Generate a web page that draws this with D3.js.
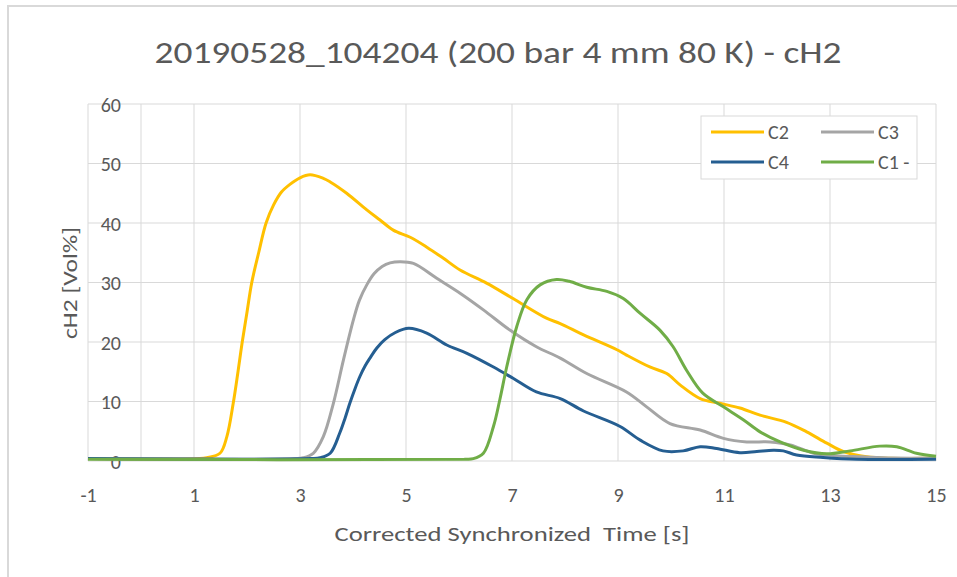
<!DOCTYPE html>
<html>
<head>
<meta charset="utf-8">
<script src="https://cdn.jsdelivr.net/npm/d3@7"></script>
<style>
  body { margin: 0; background: #fff; }
  text { font-family: Carlito, Calibri, "Liberation Sans", sans-serif; fill: #595959; }
</style>
</head>
<body>
<svg id="chart" width="957" height="577"></svg>
<script>
// series data (time in s, cH2 in Vol%)
const seriesNames = ['C2', 'C3', 'C4', 'C1 -'];
const seriesColors = ['#FFC000', '#A5A5A5', '#255E91', '#70AD47'];

const c2Time = [-1, 1.1, 1.24, 1.49, 1.62, 1.74, 1.83, 1.91, 2.0, 2.09, 2.22, 2.36, 2.5, 2.65, 2.81, 3.0, 3.19, 3.44, 3.57, 3.88, 4.26, 4.51, 4.76, 5.08, 5.4, 5.7, 6.02, 6.52, 7.02, 7.65, 7.91, 8.35, 8.98, 9.16, 9.6, 9.92, 10.17, 10.55, 10.92, 11.3, 11.68, 12.18, 12.56, 12.94, 13.25, 13.69, 14.13, 15];
const c2Vol = [0.4, 0.4, 0.55, 1.3, 4.1, 9.7, 15.0, 20.0, 25.0, 30.0, 35.0, 40.0, 43.0, 45.2, 46.5, 47.6, 48.1, 47.5, 46.9, 45.0, 42.2, 40.5, 38.8, 37.6, 35.9, 34.1, 32.1, 29.9, 27.3, 24.0, 23.1, 21.2, 18.7, 17.8, 15.8, 14.7, 12.8, 10.5, 9.7, 8.9, 7.7, 6.5, 4.9, 3.0, 1.6, 0.7, 0.45, 0.5];

const c3Time = [-1, 2.9, 3.06, 3.25, 3.44, 3.63, 3.82, 4.01, 4.12, 4.26, 4.4, 4.55, 4.7, 4.89, 5.14, 5.58, 6.02, 6.46, 6.96, 7.46, 7.91, 8.41, 9.16, 9.54, 9.98, 10.55, 10.99, 11.43, 11.87, 12.25, 12.69, 13.1, 13.6, 14.2, 15];
const c3Vol = [0.4, 0.4, 0.55, 1.3, 4.1, 9.7, 17.0, 23.8, 27.0, 29.6, 31.5, 32.7, 33.3, 33.5, 33.2, 30.7, 28.2, 25.4, 22.0, 19.2, 17.3, 14.7, 11.6, 9.1, 6.3, 5.2, 3.8, 3.2, 3.2, 2.7, 1.3, 0.9, 0.7, 0.5, 0.5];

const c4Time = [-1, 3.2, 3.38, 3.57, 3.75, 3.85, 3.94, 4.04, 4.13, 4.23, 4.32, 4.45, 4.6, 4.8, 5.05, 5.39, 5.77, 6.15, 6.65, 7.02, 7.46, 7.91, 8.35, 9.04, 9.42, 9.85, 10.23, 10.55, 10.86, 11.3, 11.62, 11.93, 12.12, 12.37, 12.87, 13.5, 15];
const c4Vol = [0.4, 0.4, 0.55, 1.3, 4.7, 7.2, 9.7, 12.2, 14.2, 16.0, 17.3, 19.0, 20.4, 21.6, 22.3, 21.5, 19.5, 18.1, 15.8, 13.9, 11.6, 10.5, 8.4, 5.8, 3.5, 1.7, 1.7, 2.4, 2.1, 1.4, 1.6, 1.8, 1.7, 1.0, 0.6, 0.3, 0.3];

const c1Time = [-1, 6.1, 6.27, 6.46, 6.65, 6.77, 6.9, 7.09, 7.28, 7.53, 7.84, 8.08, 8.41, 8.79, 9.1, 9.42, 9.79, 10.04, 10.29, 10.6, 10.99, 11.37, 11.68, 12.06, 12.5, 12.94, 13.38, 13.94, 14.26, 14.63, 15];
const c1Vol = [0.3, 0.3, 0.4, 1.3, 5.8, 10.3, 15.8, 22.6, 27.1, 29.6, 30.5, 30.2, 29.2, 28.5, 27.3, 24.8, 22.0, 19.2, 15.3, 11.4, 9.1, 6.9, 4.9, 3.2, 1.8, 1.2, 1.7, 2.5, 2.4, 1.3, 0.8];

const xTicks = [-1, 1, 3, 5, 7, 9, 11, 13, 15];
const yTicks = [0, 10, 20, 30, 40, 50, 60];

const series = [
    { name: seriesNames[0], color: seriesColors[0], t: c2Time, v: c2Vol },
    { name: seriesNames[1], color: seriesColors[1], t: c3Time, v: c3Vol },
    { name: seriesNames[2], color: seriesColors[2], t: c4Time, v: c4Vol },
    { name: seriesNames[3], color: seriesColors[3], t: c1Time, v: c1Vol }
];

const svg = d3.select('#chart');

// chart border
svg.append('rect')
    .attr('x', 8).attr('y', 6)
    .attr('width', 1000).attr('height', 700)
    .attr('fill', 'none')
    .attr('stroke', '#d9d9d9')
    .attr('stroke-width', 2);

var xScale = d3.scaleLinear().domain([-1, 15]).range([88, 936]);
var yScale = d3.scaleLinear().domain([0, 60]).range([461, 104]);

// gridlines
svg.append('g').selectAll('line')
    .data(yTicks)
    .enter().append('line')
    .attr('x1', xScale(-1)).attr('x2', xScale(15))
    .attr('y1', d => yScale(d)).attr('y2', d => yScale(d))
    .attr('stroke', '#d9d9d9').attr('stroke-width', 1);

svg.append('g').selectAll('line')
    .data(xTicks.concat([0]))
    .enter().append('line')
    .attr('x1', d => xScale(d)).attr('x2', d => xScale(d))
    .attr('y1', yScale(60)).attr('y2', yScale(0))
    .attr('stroke', '#d9d9d9').attr('stroke-width', 1);

// axes (labels only, lines come from the grid)
var yAxis = d3.axisLeft(yScale).tickValues(yTicks).tickSize(0).tickPadding(20);
var yAxisGroup = svg.append('g')
    .attr('transform', `translate(${xScale(0)}, 0)`)
    .call(yAxis);
yAxisGroup.select('.domain').remove();
yAxisGroup.selectAll('text')
    .attr('font-size', 20)
    .attr('font-family', null)
    .attr('fill', '#595959')
    .attr('dy', '0.35em');

var xAxis = d3.axisBottom(xScale).tickValues(xTicks).tickSize(0).tickFormat(d => String(d));
var xAxisGroup = svg.append('g')
    .attr('transform', `translate(0, ${yScale(0)})`)
    .call(xAxis);
xAxisGroup.select('.domain').remove();
xAxisGroup.selectAll('text')
    .attr('font-size', 20)
    .attr('font-family', null)
    .attr('fill', '#595959')
    .attr('y', 34)
    .attr('dy', '0.35em');

// lines
var line = d3.line()
    .x(d => xScale(d[0]))
    .y(d => yScale(d[1]))
    .curve(d3.curveCatmullRom.alpha(0.5));

series.forEach(s => {
    svg.append('path')
        .datum(s.t.map((t, i) => [t, s.v[i]]))
        .attr('d', line)
        .attr('fill', 'none')
        .attr('stroke', s.color)
        .attr('stroke-width', 3)
        .attr('stroke-linejoin', 'round');
});

// texts
function fitText(sel, width) {
    sel.attr('textLength', width).attr('lengthAdjust', 'spacingAndGlyphs');
}

var title = svg.append('text')
    .attr('x', 498).attr('y', 52)
    .attr('text-anchor', 'middle')
    .attr('dy', '0.35em')
    .attr('font-size', 31)
    .text('20190528_104204 (200 bar 4 mm 80 K) - cH2');
fitText(title, 687);

var xTitle = svg.append('text')
    .attr('x', 512).attr('y', 534)
    .attr('text-anchor', 'middle')
    .attr('dy', '0.35em')
    .attr('font-size', 21)
    .style('white-space', 'pre')
    .text('Corrected Synchronized  Time [s]');
fitText(xTitle, 355);

var yTitle = svg.append('text')
    .attr('transform', 'translate(70, 283) rotate(-90)')
    .attr('text-anchor', 'middle')
    .attr('dy', '0.35em')
    .attr('font-size', 21)
    .text('cH2 [Vol%]');
fitText(yTitle, 112);

// legend
var legend = svg.append('g');
legend.append('rect')
    .attr('x', 701).attr('y', 116)
    .attr('width', 216).attr('height', 63)
    .attr('fill', '#fff')
    .attr('stroke', '#d9d9d9');

var legendPos = [[711, 132], [821, 132], [711, 162], [821, 162]];
series.forEach((s, i) => {
    var p = legendPos[i];
    legend.append('line')
        .attr('x1', p[0]).attr('x2', p[0] + 53)
        .attr('y1', p[1]).attr('y2', p[1])
        .attr('stroke', s.color).attr('stroke-width', 3);
    legend.append('text')
        .attr('x', p[0] + 57).attr('y', p[1])
        .attr('dy', '0.35em')
        .attr('font-size', 20)
        .text(s.name);
});
</script>
</body>
</html>
